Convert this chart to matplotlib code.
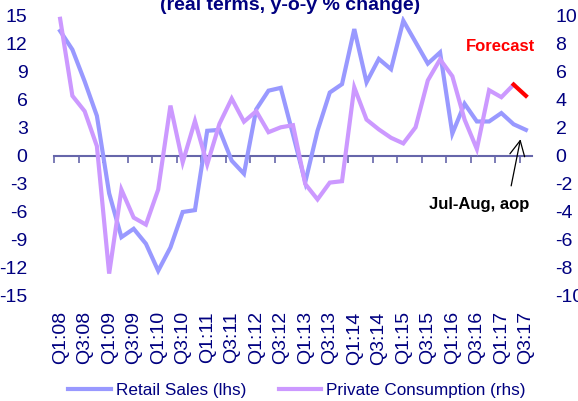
import matplotlib
matplotlib.use("Agg")
import matplotlib.pyplot as plt
import numpy as np

plt.rcParams['font.family'] = ['Liberation Sans', 'DejaVu Sans']

quarters = [f"Q{q}:{y:02d}" for y in range(8, 18) for q in (1, 2, 3, 4)][:39]

retail_sales = [13.4, 11.4, 8.0, 4.3, -4.0, -8.7, -7.8, -9.4, -12.3, -9.8,
                -6.0, -5.8, 2.7, 2.8, -0.5, -1.9, 5.0, 7.0, 7.3, 2.3,
                -2.8, 2.7, 6.8, 7.7, 13.6, 7.9, 10.4, 9.3, 14.5, 12.2,
                9.9, 11.1, 2.4, 5.6, 3.7, 3.7, 4.6, 3.4, 2.8]

private_consumption = [9.8, 4.3, 3.2, 0.7, -8.4, -2.4, -4.4, -4.9, -2.4, 3.6,
                       -0.45, 2.5, -0.6, 2.3, 4.1, 2.45, 3.2, 1.7, 2.05, 2.2,
                       -2.0, -3.1, -1.9, -1.8, 4.9, 2.6, 1.9, 1.3, 0.9, 2.05,
                       5.4, 6.9, 5.7, 2.6, 0.5, 4.7, 4.2, 5.1]
private_consumption_forecast = 4.3

left_ticks = list(range(-15, 16, 3))
right_ticks = list(range(-10, 11, 2))

navy = '#000080'
blue = '#9999FF'
purple = '#CC99FF'
axis_col = '#6666AA'

fig = plt.figure(figsize=(5.78, 4.01), dpi=100)
ax = fig.add_axes([54/578, 1-296/401, (532-54)/578, (296-16)/401])
ax2 = ax.twinx()

x = np.arange(len(quarters))
ax.plot(x, retail_sales, color=blue, lw=3.0, solid_joinstyle='miter', label='Retail Sales (lhs)')
xp = np.arange(len(private_consumption))
ax2.plot(xp, private_consumption, color=purple, lw=3.0, solid_joinstyle='miter', label='Private Consumption (rhs)')
ax2.plot([xp[-1], xp[-1] + 1], [private_consumption[-1], private_consumption_forecast],
         color='#FF0000', lw=3.0)

ax.set_xlim(-0.5, len(quarters) - 0.5)
ax.set_ylim(-15, 15)
ax2.set_ylim(-10, 10)
ax.set_yticks(left_ticks)
ax.set_yticklabels([str(t) for t in left_ticks])
ax2.set_yticks(right_ticks)
ax2.set_yticklabels([str(t) for t in right_ticks])

for a in (ax, ax2):
    for s in a.spines.values():
        s.set_visible(False)
ax.patch.set_visible(False)

ax.tick_params(axis='y', length=0, pad=19, labelsize=14, labelcolor=navy)
ax2.tick_params(axis='y', length=0, pad=17, labelsize=14, labelcolor=navy)

ax.set_xticks(x[::2])
ax.set_xticklabels(quarters[::2], rotation=90)
ax.tick_params(axis='x', length=0, pad=11, labelsize=14, labelcolor=navy)

sec = ax.secondary_xaxis(0, transform=ax.transData)
sec.set_alignment('bottom')
sec.set_xticks(x[::2] - 0.5)
sec.tick_params(axis='x', direction='out', length=5, width=1.2, color=axis_col, labelbottom=False, labeltop=False)
for s in sec.spines.values():
    s.set_color(axis_col)
    s.set_linewidth(1.5)

ax.text(35.96, 11.7, 'Forecast', color='#FF0000', fontsize=12, fontweight='bold',
        ha='center', va='center')
ax.text(34.2, -5.15, 'Jul-Aug, aop', color='black', fontsize=12, fontweight='bold',
        ha='center', va='center')
ax.annotate('', xy=(37.56, 1.8), xytext=(36.8, -3.2),
            arrowprops=dict(arrowstyle='->,head_length=0.6,head_width=0.3', color='black',
                            lw=0.9, mutation_scale=18, shrinkA=0, shrinkB=0))

fig.text(290/578, 1 - 9.5/401, '(real terms, y-o-y % change)', color=navy,
         fontsize=14, fontweight='bold', ha='center', va='baseline')

h1, l1 = ax.get_legend_handles_labels()
h2, l2 = ax2.get_legend_handles_labels()
fig.legend(h1 + h2, l1 + l2, loc='center', bbox_to_anchor=(297/578, 1 - 390/401),
           ncol=2, frameon=False, fontsize=12.3, labelcolor=navy,
           handlelength=2.5, handletextpad=0.3, columnspacing=1.9)

fig.savefig('out.png', dpi=100)
